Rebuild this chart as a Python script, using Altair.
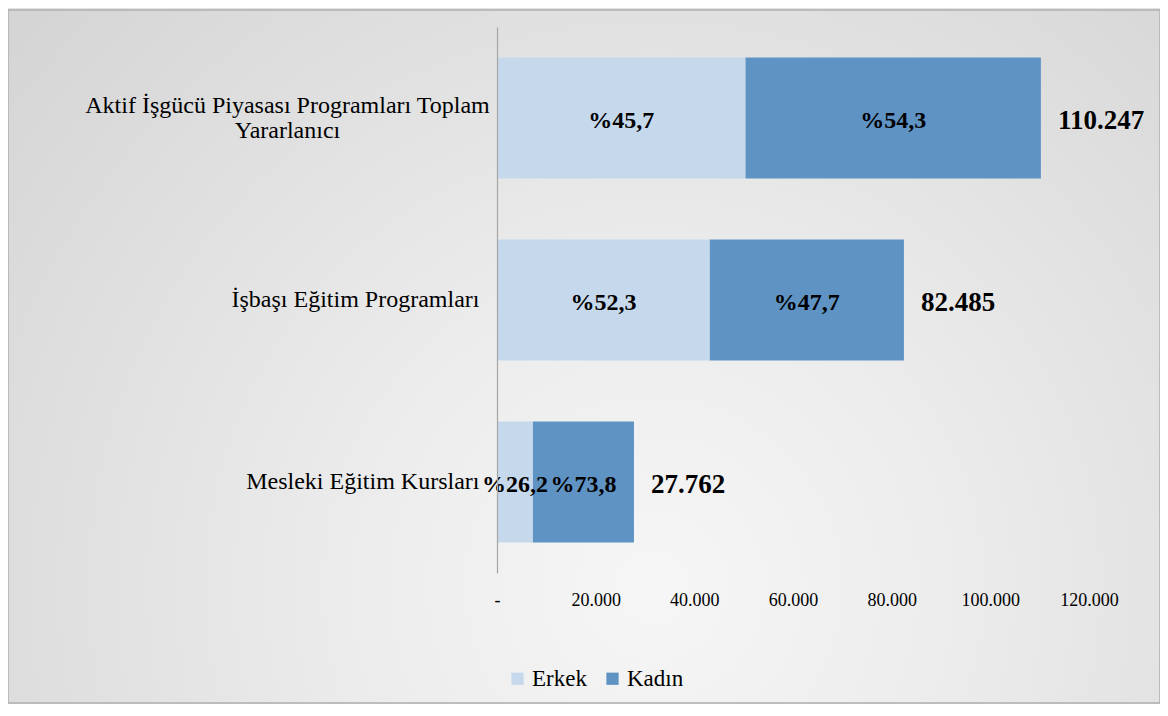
import altair as alt
import pandas as pd

first_label_lines = ["Aktif İşgücü Piyasası Programları Toplam", "Yararlanıcı"]
categories = [" ".join(first_label_lines), "İşbaşı Eğitim Programları", "Mesleki Eğitim Kursları"]
totals = [110247, 82485, 27762]
erkek_pct = [45.7, 52.3, 26.2]
kadin_pct = [54.3, 47.7, 73.8]
genders = ["Erkek", "Kadın"]
x_ticks = [0, 20000, 40000, 60000, 80000, 100000, 120000]
colors = ["#c6d9ec", "#5f93c4"]

rows = []
for c, t, e, k in zip(categories, totals, erkek_pct, kadin_pct):
    for i, (g, p) in enumerate(zip(genders, [e, k])):
        rows.append({"category": c, "gender": g, "order": i,
                     "value": t * p / 100.0,
                     "label": "%" + f"{p:.1f}".replace(".", ",")})
df = pd.DataFrame(rows)
tot_df = pd.DataFrame({"category": categories, "total": totals,
                       "label": [f"{t:,}".replace(",", ".") for t in totals]})

W, H = 592, 546
PL, PT, PR, PB = 489, 19, 71, 131
FONT = "Liberation Serif, Times New Roman, DejaVu Serif, serif"

first = categories[0]
test = f"datum.value == '{first}'"
lines_js = "[" + ",".join(f"'{s}'" for s in first_label_lines) + "]"

y_enc = alt.Y("category:N", sort=categories, title=None,
              scale=alt.Scale(paddingInner=0.335, paddingOuter=0.1676),
              axis=alt.Axis(
                  labelExpr=f"{test} ? {lines_js} : datum.label",
                  labelAlign={"condition": {"test": test, "value": "center"}, "value": "right"},
                  labelPadding={"condition": {"test": test, "value": 210}, "value": 18},
                  labelOffset={"condition": {"test": test, "value": -12}, "value": 0},
                  labelFont=FONT, labelFontSize=24, labelColor="#000000",
                  labelLineHeight=25, labelLimit=600,
                  ticks=False, tickSize=0, domain=True, domainColor="#a6a6a6",
                  domainWidth=1.2, grid=False, zindex=1))

x_scale = alt.Scale(domain=[0, 120000], nice=False)

bg = alt.Chart(alt.Data(values=[{"k": 1}])).mark_rect(
    fill=alt.RadialGradient(
        gradient="radial",
        stops=[alt.GradientStop(color="#f6f6f6", offset=0),
               alt.GradientStop(color="#ececec", offset=0.35),
               alt.GradientStop(color="#d4d4d4", offset=1)],
        x1=0.56, y1=0.7, r1=0, x2=0.56, y2=0.7, r2=0.75),
    stroke="#b0b0b0", strokeWidth=1.5
).encode(x=alt.value(-PL), x2=alt.value(W + PR), y=alt.value(-PT + 2), y2=alt.value(H + PB - 1))

base = alt.Chart(df).transform_stack(
    stack="value", groupby=["category"], sort=[alt.SortField("order")], as_=["v0", "v1"]
).transform_calculate(mid="(datum.v0 + datum.v1) / 2")

bars = base.mark_bar(size=121).encode(
    y=y_enc,
    x=alt.X("v0:Q", scale=x_scale, title=None,
            axis=alt.Axis(values=x_ticks, domain=False, ticks=False, grid=False,
                          labelFlush=False, labelOverlap=False,
                          labelExpr="datum.value == 0 ? '-' : replace(format(datum.value, ','), ',', '.')",
                          labelFont=FONT, labelFontSize=18, labelColor="#000000",
                          labelPadding=18, zindex=1)),
    x2="v1:Q",
    color=alt.Color("gender:N", scale=alt.Scale(domain=genders, range=colors),
                    legend=alt.Legend(title=None, orient="none", legendX=9, legendY=640,
                                      direction="horizontal", symbolType="square",
                                      symbolSize=150, symbolStrokeWidth=0,
                                      labelFont=FONT, labelFontSize=23, labelColor="#000000",
                                      labelOffset=3, columnPadding=14)),
)

pct = base.mark_text(font=FONT, fontSize=24, fontWeight="bold", color="#000000", dy=3).encode(
    y=alt.Y("category:N", sort=categories),
    x=alt.X("mid:Q", scale=x_scale),
    text="label:N",
)

tot = alt.Chart(tot_df).mark_text(font=FONT, fontSize=27, fontWeight="bold", color="#000000",
                                  align="left", dx=17, dy=3).encode(
    y=alt.Y("category:N", sort=categories),
    x=alt.X("total:Q", scale=x_scale),
    text="label:N",
)

chart = alt.layer(bg, bars, pct, tot).properties(
    width=W, height=H,
    autosize=alt.AutoSizeParams(type="none"),
    padding={"left": PL, "top": PT, "right": PR, "bottom": PB},
    background="#e2e2e2",
).configure_view(stroke=None)

chart.save("out.html", embed_options={"renderer": "svg", "actions": False})
